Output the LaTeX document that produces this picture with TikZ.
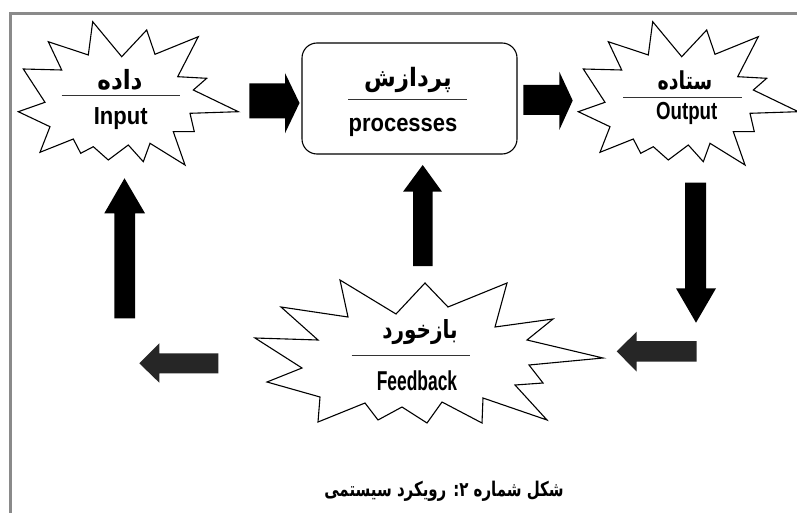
\documentclass[tikz,border=0pt]{standalone}
\usepackage{fontspec}
\setmainfont{Liberation Sans}
\newfontfamily\fa[Script=Arabic]{DejaVu Sans}
\TeXXeTstate=1
\definecolor{framegray}{HTML}{8A8A8A}
\definecolor{darkarrow}{HTML}{262626}
\begin{document}
\begin{tikzpicture}[x=1pt,y=-1pt,
  burst/.style={draw=black,fill=white,line width=1.1pt,line join=miter},
  procbox/.style={draw=black,line width=1.1pt,rounded corners=15pt,fill=white},
  sepline/.style={draw=black!80,line width=0.9pt},
  blockarrow/.style={fill=black},
  grayarrow/.style={fill=darkarrow},
  fatext/.style={inner sep=0pt,font=\fa\bfseries\fontsize{19}{22}\selectfont},
  latext/.style={inner sep=0pt,font=\bfseries\fontsize{22}{26}\selectfont}]
\useasboundingbox (0,0) rectangle (797,513);
\clip (0,0) rectangle (797,513);
\fill[white] (0,0) rectangle (797,513);
% frame
\draw[line width=3pt,framegray] (800,13.5) -- (10,13.5) -- (10,520);
% input starburst
\def\burstpath{(92.7,21.7) -- (121.7,56.7) -- (146.7,30) -- (155,54.3) -- (198.3,36.7) -- (177.7,76.7) -- (206.7,78.3) -- (193.3,90) -- (238.3,111.7) -- (190,113.3) -- (194.3,131.7) -- (173.3,131.7) -- (185,165) -- (150,143.3) -- (143.3,161.7) -- (128.3,145) -- (108.3,160) -- (93.3,146.7) -- (80.7,153.3) -- (73.3,139) -- (40,152.3) -- (50,126.7) -- (18.3,111.7) -- (45,102.3) -- (23.3,69) -- (61.7,70) -- (48.3,41.7) -- (88.3,55) -- cycle}
\path[burst] \burstpath;
\begin{scope}[xshift=560pt]
\path[burst] \burstpath;
\end{scope}
% feedback starburst
\path[burst] (340,280) -- (396,314) -- (425,283) -- (448,307) -- (507,283) -- (495,327) -- (553,319) -- (527,340) -- (603,358) -- (529,365) -- (543,383) -- (515,385) -- (547,420) -- (483,398) -- (482,423) -- (442,402) -- (427,423) -- (402,407) -- (378,420) -- (365,403) -- (318,422) -- (320,397) -- (267,382) -- (302,368) -- (255,338) -- (318,340) -- (281,307) -- (348,317) -- cycle;
% process box
\node[procbox,minimum width=215pt,minimum height=111pt] (proc) at (409.5,98.5) {};
% separator lines
\draw[sepline] (61.7,95) -- (180,95);
\draw[sepline] (623,97.7) -- (741.7,97.7);
\draw[sepline] (348,99.5) -- (467,99.5);
\draw[sepline] (351.7,355.7) -- (470,355.7);
% texts
\node[fatext,font=\fa\bfseries\fontsize{23}{26}\selectfont] (inFa) at (120,80) {\scalebox{1}[1.15]{\beginR داده\endR}};
\node[latext] (inEn) at (120.7,119) {\scalebox{1.0}[1.12]{Input}};
\node[fatext] (outFa) at (685,80) {\scalebox{1}[1.3]{\beginR ستاده\endR}};
\node[latext] (outEn) at (686.7,113) {\scalebox{0.85}[1.12]{Output}};
\node[fatext,font=\fa\bfseries\fontsize{23}{26}\selectfont] (procFa) at (408,80) {\scalebox{1}[1.1]{\beginR پردازش\endR}};
\node[latext] (procEn) at (403,127) {\scalebox{1.0}[1.12]{processes}};
\node[fatext,font=\fa\bfseries\fontsize{20}{24}\selectfont] (fbFa) at (420,332) {\scalebox{1}[1.25]{\beginR بازخورد\endR}};
\node[latext,font=\bfseries\fontsize{26}{30}\selectfont] (fbEn) at (417,381) {\scalebox{0.67}[1.05]{Feedback}};
\node[fatext,font=\fa\bfseries\fontsize{15}{20}\selectfont] (caption) at (444,491) {\scalebox{1}[1.35]{\beginR شکل شماره ۲: رویکرد سیستمی\endR}};
% block arrows
\fill[blockarrow] (249.3,83.3) -- (285,83.3) -- (285,73) -- (299.5,103) -- (285,133.3) -- (285,118.3) -- (249.3,118.3) -- cycle;
\fill[blockarrow] (523.3,85) -- (559.3,85) -- (559.3,71.7) -- (572.7,100.5) -- (559.3,130) -- (559.3,115) -- (523.3,115) -- cycle;
\fill[blockarrow] (685,182.7) -- (706,182.7) -- (706,288.3) -- (716,288.3) -- (696,322.7) -- (676,288.3) -- (685,288.3) -- cycle;
\fill[grayarrow] (696.7,341) -- (636.7,341) -- (636.7,331.7) -- (616.7,351.3) -- (636.7,371.7) -- (636.7,361.7) -- (696.7,361.7) -- cycle;
\fill[blockarrow] (413,266) -- (413,191.7) -- (403,191.7) -- (422.7,165) -- (442,191.7) -- (432.5,191.7) -- (432.5,266) -- cycle;
\fill[blockarrow] (114.3,318.3) -- (114.3,213.3) -- (104.3,213.3) -- (124.5,178.3) -- (145,213.3) -- (135,213.3) -- (135,318.3) -- cycle;
\fill[grayarrow] (218.3,353.3) -- (159.3,353.3) -- (159.3,343.3) -- (139.3,363.3) -- (159.3,382.7) -- (159.3,373.3) -- (218.3,373.3) -- cycle;
\end{tikzpicture}
\end{document}
